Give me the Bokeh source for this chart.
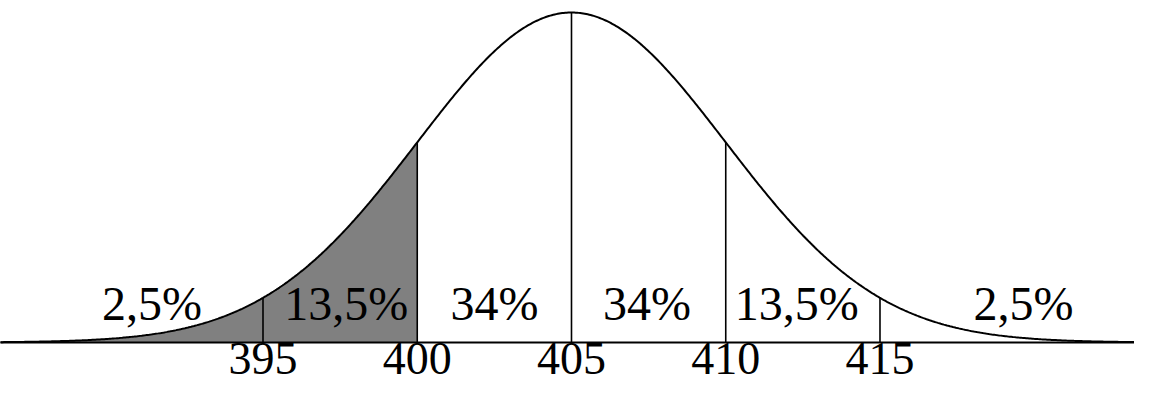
import numpy as np
from bokeh.plotting import figure
from bokeh.models import Range1d
from bokeh.core.properties import value
from bokeh.embed import file_html
from bokeh.resources import INLINE

# --- data ---
mean = 405
sd = 5
tick_values = [395, 400, 405, 410, 415]
tick_labels = ["395", "400", "405", "410", "415"]
pct_labels = ["2,5%", "13,5%", "34%", "34%", "13,5%", "2,5%"]
pct_x = [391.4, 397.7, 402.5, 407.45, 412.3, 419.65]
shade_end = 400

FONT = value("Liberation Serif")

x_start, x_end = 386.491, 423.25
p = figure(width=1134, height=384, output_backend="svg", toolbar_location=None,
           x_range=Range1d(x_start, x_end), y_range=Range1d(-0.1273, 1.0364),
           min_border=0, min_border_left=0, min_border_right=0,
           min_border_top=0, min_border_bottom=0)
p.axis.visible = False
p.grid.visible = False
p.outline_line_color = None
p.background_fill_color = "white"
p.border_fill_color = "white"


def density(x):
    return np.exp(-0.5 * ((np.asarray(x) - mean) / sd) ** 2)


xs = np.linspace(x_start - 1, x_end + 1, 800)
ys = density(xs)

# shaded left area
xs_sh = np.linspace(x_start - 1, shade_end, 400)
p.varea(x=xs_sh, y1=np.zeros_like(xs_sh), y2=density(xs_sh), fill_color="#808080")

# vertical lines
p.segment(x0=tick_values, y0=[0] * len(tick_values), x1=tick_values,
          y1=list(density(tick_values)), line_color="black", line_width=1.6)

# baseline
p.line(x=[x_start - 1, x_end + 1], y=[0, 0], line_color="black", line_width=2.2)

# curve
p.line(x=xs, y=ys, line_color="black", line_width=2)

# percentage labels
p.text(x=pct_x, y=[0.118] * len(pct_x), text=pct_labels, text_font=FONT,
       text_font_size="48px", text_align="center", text_baseline="alphabetic",
       text_color="black")

# tick labels
p.text(x=tick_values, y=[-0.0485] * len(tick_values), text=tick_labels, text_font=FONT,
       text_font_size="46px", text_align="center", text_baseline="alphabetic",
       text_color="black")

open("out.html", "w").write(file_html(p, INLINE))
